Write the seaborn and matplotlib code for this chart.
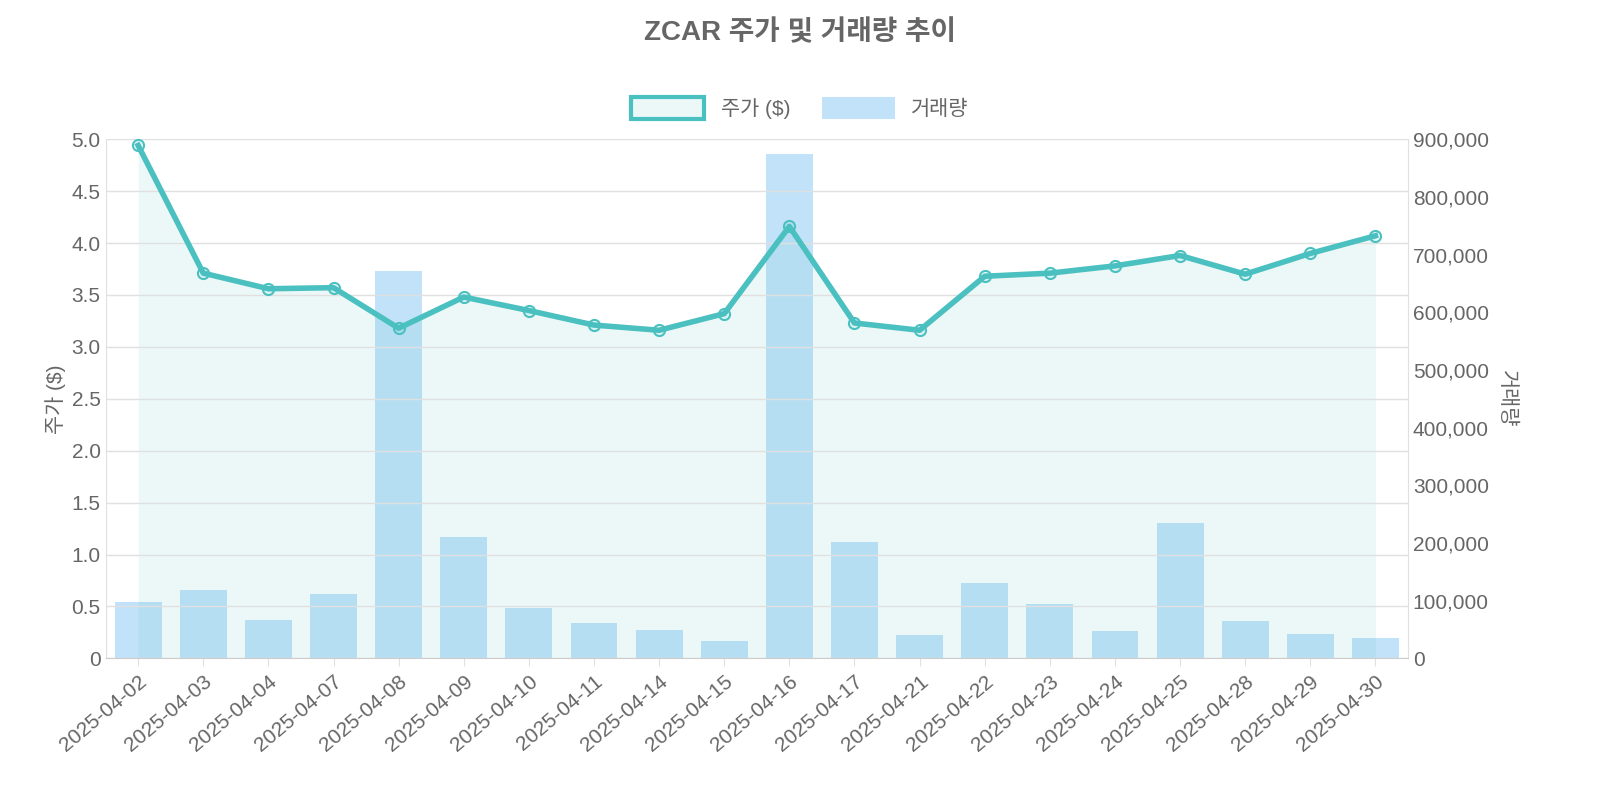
import matplotlib
matplotlib.use("Agg")
import matplotlib.pyplot as plt
from matplotlib import font_manager
import seaborn as sns
import pandas as pd
from matplotlib.patches import Patch
from matplotlib.ticker import FuncFormatter

dates = ["2025-04-02","2025-04-03","2025-04-04","2025-04-07","2025-04-08","2025-04-09","2025-04-10",
         "2025-04-11","2025-04-14","2025-04-15","2025-04-16","2025-04-17","2025-04-21","2025-04-22",
         "2025-04-23","2025-04-24","2025-04-25","2025-04-28","2025-04-29","2025-04-30"]
price = [4.94,3.71,3.56,3.57,3.18,3.48,3.35,3.21,3.16,3.32,4.16,3.23,3.16,3.68,3.71,3.78,3.88,3.70,3.90,4.07]
volume = [97000,118000,66000,111000,671000,210000,88000,61000,50000,31000,874000,201000,40000,130000,
          94000,47000,234000,64000,43000,36000]

cjk = sorted({f.name for f in font_manager.fontManager.ttflist if "CJK" in f.name},
             key=lambda n: (0 if "KR" in n else 1, n))
plt.rcParams["font.family"] = ["Liberation Sans"] + cjk + ["DejaVu Sans"]
teal = "#4bc0c0"
blue = "#9ad0f5"
grey = "#666666"

df = pd.DataFrame({"date": dates, "price": price, "volume": volume, "x": range(len(dates))})

fig = plt.figure(figsize=(16, 8), dpi=100)
ax = fig.add_axes([0.066, 0.177, 0.814, 0.649])
ax2 = ax.twinx()

sns.barplot(data=df, x="x", y="volume", ax=ax2, color=blue, alpha=0.6, width=0.72, saturation=1)
ax.fill_between(df["x"], price, 0, color=teal, alpha=0.1, linewidth=0)
sns.lineplot(data=df, x="x", y="price", ax=ax, color=teal, linewidth=4, marker="o",
             markersize=8, markerfacecolor=(0.29, 0.75, 0.75, 0.1), markeredgecolor=teal, markeredgewidth=1.5)

ax.set_zorder(ax2.get_zorder() + 1)
ax.patch.set_visible(False)

ax.set_xlim(-0.5, len(dates) - 0.5)
ax.set_ylim(0, 5.0)
ax.set_yticks([i * 0.5 for i in range(11)])
ax.set_yticklabels(["0"] + [f"{i*0.5:.1f}" for i in range(1, 11)])
ax2.set_ylim(0, 900000)
ax2.set_yticks(range(0, 900001, 100000))
ax2.yaxis.set_major_formatter(FuncFormatter(lambda v, p: f"{int(v):,}"))

ax.set_xticks(range(len(dates)))
ax.set_xticklabels(dates, rotation=40, ha="right", rotation_mode="anchor")

ax.grid(axis="y", color="#e0e0e0", linewidth=1)
ax.grid(axis="x", visible=False)
for a in (ax, ax2):
    for s in a.spines.values():
        s.set_visible(False)
    a.tick_params(colors=grey, labelsize=15, length=0)
ax.spines["bottom"].set_visible(True)
ax.spines["bottom"].set_color("#cccccc")
ax.spines["left"].set_visible(True)
ax.spines["left"].set_color("#e0e0e0")
ax2.spines["right"].set_visible(True)
ax2.spines["right"].set_color("#e0e0e0")
ax.tick_params(axis="x", length=6, color="#e0e0e0")

ax.set_xlabel("")
ax2.set_xlabel("")
ax.set_ylabel("주가 ($)", color=grey, fontsize=15)
ax2.set_ylabel("거래량", color=grey, fontsize=15, rotation=270, labelpad=20)

fig.suptitle("ZCAR 주가 및 거래량 추이", fontsize=20, fontweight="bold", color=grey, y=0.975)

handles = [Patch(facecolor=(0.29, 0.75, 0.75, 0.1), edgecolor=teal, linewidth=3, label="주가 ($)"),
           Patch(facecolor=blue, alpha=0.6, edgecolor="none", label="거래량")]
fig.legend(handles=handles, loc="center", bbox_to_anchor=(0.5, 0.865), ncol=2, frameon=False,
           fontsize=15, labelcolor=grey, handlelength=3.5, handleheight=1.2, columnspacing=1.5)

fig.savefig("out.png", dpi=100)
